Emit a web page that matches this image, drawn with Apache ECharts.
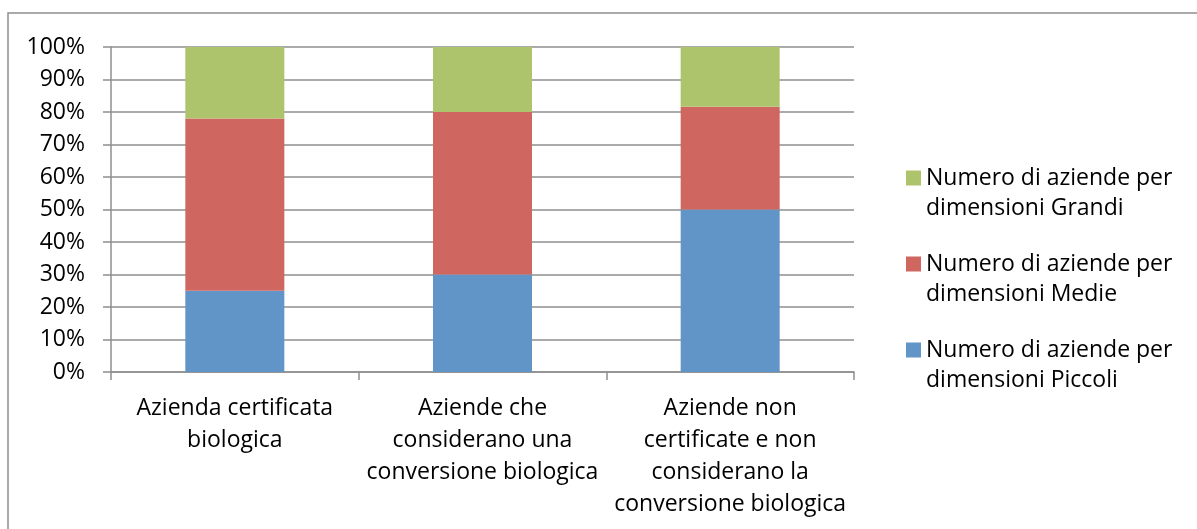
<!DOCTYPE html>
<html>
<head>
<meta charset="utf-8">
<script src="https://cdn.jsdelivr.net/npm/echarts@6/dist/echarts.min.js"></script>
<style>
html,body{margin:0;padding:0;background:#fff;}
#chart{width:1197px;height:529px;}
</style>
</head>
<body>
<div id="chart"></div>
<script>
const categories = [
  'Azienda certificata\nbiologica',
  'Aziende che\nconsiderano una\nconversione biologica',
  'Aziende non\ncertificate e non\nconsiderano la\nconversione biologica'
];
const seriesNames = [
  'Numero di aziende per\ndimensioni Piccoli',
  'Numero di aziende per\ndimensioni Medie',
  'Numero di aziende per\ndimensioni Grandi'
];
const piccoli = [25, 30, 50];
const medie = [53, 50, 31.6];
const grandi = [22, 20, 18.4];
const yTicks = [0, 10, 20, 30, 40, 50, 60, 70, 80, 90, 100];

const colors = ['#6194C7', '#CF6660', '#ADC46D'];
const font = '"Open Sans", "Noto Sans", sans-serif';
const gridColor = '#8f8f8f';

const chart = echarts.init(document.getElementById('chart'), null, {renderer: 'canvas'});

const dataSets = [piccoli, medie, grandi];
const series = dataSets.map((d, i) => ({
  name: seriesNames[i],
  type: 'bar',
  stack: 'total',
  data: d,
  barWidth: 99,
  itemStyle: {color: colors[i]},
  emphasis: {disabled: true}
}));

chart.setOption({
  animation: false,
  color: colors,
  textStyle: {fontFamily: font},
  graphic: [{
    type: 'polyline',
    shape: {points: [[8, 529], [8, 13], [1197, 13]]},
    style: {stroke: '#8f8f8f', lineWidth: 1.5, fill: null}
  }],
  grid: {left: 111, right: 343, top: 47, bottom: 157, containLabel: false},
  legend: {
    orient: 'vertical',
    left: 901,
    top: 128,
    itemWidth: 15,
    itemHeight: 15,
    itemGap: -4,
    icon: 'rect',
    data: seriesNames.slice().reverse(),
    formatter: name => '\n' + name,
    textStyle: {fontFamily: font, fontSize: 23, color: '#000', lineHeight: 30},
    selectedMode: false
  },
  xAxis: {
    type: 'category',
    data: categories,
    axisLine: {show: true, lineStyle: {color: gridColor, width: 1.5}},
    axisTick: {show: true, length: 8, alignWithLabel: false, lineStyle: {color: gridColor, width: 1.5}},
    axisLabel: {
      interval: 0, margin: 20,
      fontFamily: font, fontSize: 23, color: '#000', lineHeight: 32, align: 'center'
    },
    splitLine: {show: false}
  },
  yAxis: {
    type: 'value',
    min: yTicks[0],
    max: yTicks[yTicks.length - 1],
    interval: yTicks[1] - yTicks[0],
    axisLine: {show: true, lineStyle: {color: gridColor, width: 1.5}},
    axisTick: {show: true, length: 8, lineStyle: {color: gridColor, width: 1.5}},
    axisLabel: {
      margin: 26,
      fontFamily: font, fontSize: 23, color: '#000',
      formatter: v => v + '%'
    },
    splitLine: {show: true, lineStyle: {color: gridColor, width: 1.5}}
  },
  series: series
});
</script>
</body>
</html>
